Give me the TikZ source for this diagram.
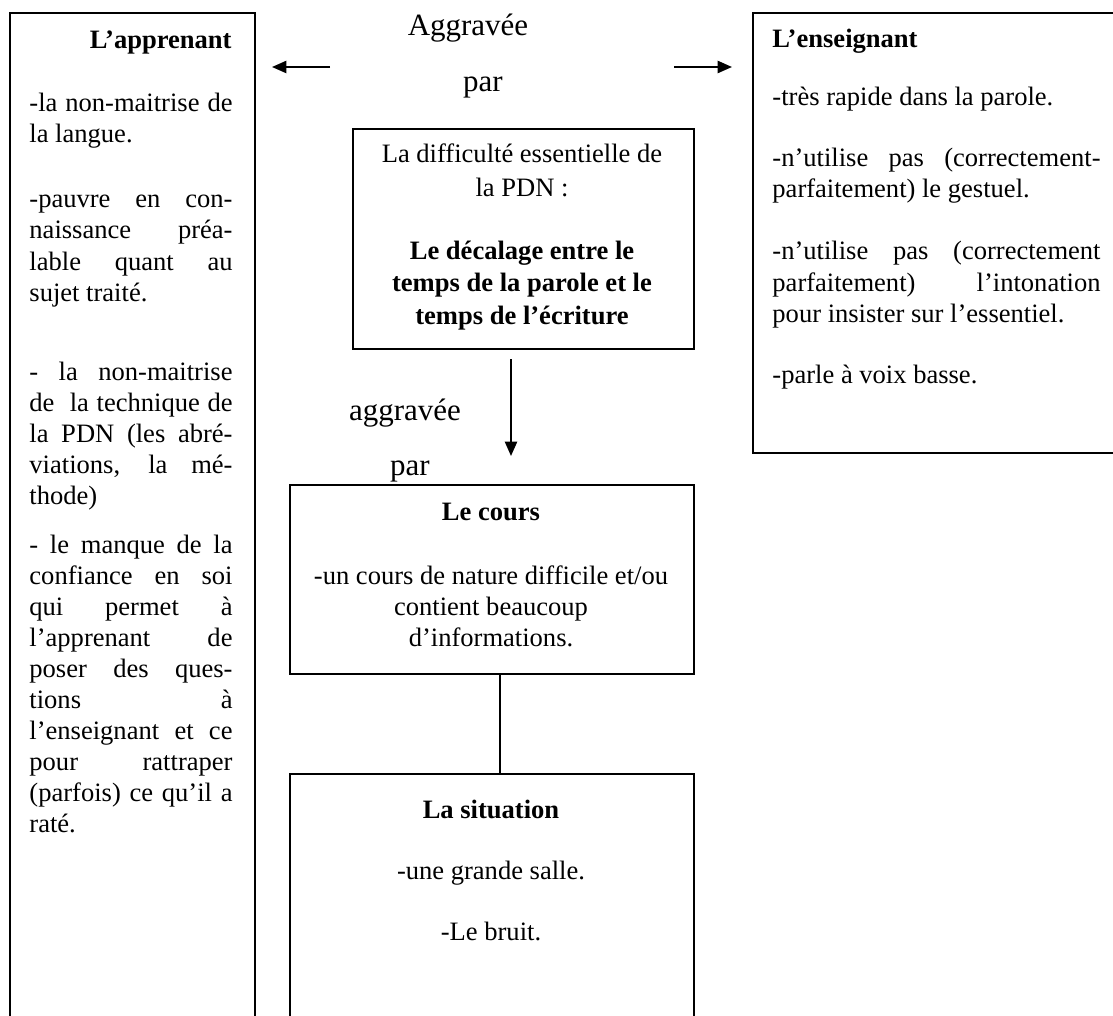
\documentclass[tikz,border=0pt]{standalone}
\usepackage{fontspec}
\setmainfont{Liberation Serif}
\usetikzlibrary{arrows.meta}
\newcommand{\px}{0.452pt}
\newcommand{\J}[1]{\makebox[91.8pt][s]{#1}}
\newcommand{\K}[1]{\makebox[148.3pt][s]{#1}}
\tikzset{
  box/.style={draw, line width=0.9pt, anchor=north west, inner sep=0pt},
  txt/.style={anchor=base west, inner sep=0pt, font=\fontsize{12}{14}\selectfont},
  txtc/.style={anchor=base, inner sep=0pt, font=\fontsize{12}{14}\selectfont},
  txtr/.style={anchor=base east, inner sep=0pt, font=\fontsize{12}{14}\selectfont\bfseries},
  lbl/.style={anchor=base, inner sep=0pt, font=\fontsize{14}{16}\selectfont},
  conn/.style={line width=0.9pt},
  arr/.style={line width=0.9pt, -{Triangle[length=6.5pt, width=5.5pt]}}
}
\begin{document}
\begin{tikzpicture}[x=\px, y=-\px]
\useasboundingbox (0,0) rectangle (1113,1016);
\clip (0,0) rectangle (1113,1016);

% boxes
\node[box, minimum width=245*\px, minimum height=1020*\px] (app) at (9,12) {};
\node[box, minimum width=380*\px, minimum height=440*\px] (ens) at (752,12) {};
\node[box, minimum width=341*\px, minimum height=220*\px] (diff) at (352,128) {};
\node[box, minimum width=404*\px, minimum height=189*\px] (cours) at (289,484) {};
\node[box, minimum width=404*\px, minimum height=260*\px] (sit) at (289,773) {};

% connectors
\coordinate (aLs) at (330,67);
\coordinate (aLe) at (272,67);
\coordinate (aRs) at (674,67);
\coordinate (aRe) at (732,67);
\coordinate (aDs) at (511,359);
\coordinate (aDe) at (511,456);
\coordinate (cx) at (500,0);
\draw[arr] (aLs) -- (aLe);
\draw[arr] (aRs) -- (aRe);
\draw[arr] (aDs) -- (aDe);
\draw[conn] (cours.south -| cx) -- (sit.north -| cx);

% labels
\node[lbl] (lA) at (468,36) {Aggravée};
\node[lbl] (lB) at (483,92) {par};
\node[lbl] (lC) at (405,420) {aggravée};
\node[lbl] (lD) at (410,475) {par};

% L'apprenant
\node[txtr] (a0) at (232,49) {L’apprenant};
\node[txt] (a1) at (29,112) {\J{-la non-maitrise de}};
\node[txt] (a2) at (29,143) {la langue.};
\node[txt] (a3) at (29,208) {\J{-pauvre en con-}};
\node[txt] (a4) at (29,239) {\J{naissance préa-}};
\node[txt] (a5) at (29,270) {\J{lable quant au}};
\node[txt] (a6) at (29,301) {sujet traité.};
\node[txt] (a7) at (29,380) {\J{- la non-maitrise}};
\node[txt] (a8) at (29,411) {\J{de\ \ la technique de}};
\node[txt] (a9) at (29,442) {\J{la PDN (les abré-}};
\node[txt] (a10) at (29,473) {\J{viations, la mé-}};
\node[txt] (a11) at (29,504) {thode)};
\node[txt] (a12) at (29,553) {\J{- le manque de la}};
\node[txt] (a13) at (29,584) {\J{confiance en soi}};
\node[txt] (a14) at (29,615) {\J{qui permet à}};
\node[txt] (a15) at (29,646) {\J{l’apprenant de}};
\node[txt] (a16) at (29,677) {\J{poser des ques-}};
\node[txt] (a17) at (29,708) {\J{tions à}};
\node[txt] (a18) at (29,739) {\J{l’enseignant et ce}};
\node[txt] (a19) at (29,770) {\J{pour rattraper}};
\node[txt] (a20) at (29,801) {\J{(parfois) ce qu’il a}};
\node[txt] (a21) at (29,832) {raté.};

% L'enseignant
\node[txt, font=\fontsize{12}{14}\selectfont\bfseries] (e0) at (772,48) {L’enseignant};
\node[txt] (e1) at (772,106) {-très rapide dans la parole.};
\node[txt] (e2) at (772,167) {\K{-n’utilise pas (correctement-}};
\node[txt] (e3) at (772,198) {parfaitement) le gestuel.};
\node[txt] (e4) at (772,260) {\K{-n’utilise pas (correctement}};
\node[txt] (e5) at (772,291) {\K{parfaitement) l’intonation}};
\node[txt] (e6) at (772,322) {pour insister sur l’essentiel.};
\node[txt] (e7) at (772,383) {-parle à voix basse.};

% centre box
\node[txtc] (d1) at (522,163) {La difficulté essentielle de};
\node[txtc] (d2) at (522,197) {la PDN :};
\node[txtc, font=\fontsize{12}{14}\selectfont\bfseries] (d3) at (522,260) {Le décalage entre le};
\node[txtc, font=\fontsize{12}{14}\selectfont\bfseries] (d4) at (522,292) {temps de la parole et le};
\node[txtc, font=\fontsize{12}{14}\selectfont\bfseries] (d5) at (522,324) {temps de l’écriture};

% Le cours
\node[txtc, font=\fontsize{12}{14}\selectfont\bfseries] (c0) at (491,520) {Le cours};
\node[txtc] (c1) at (491,584) {-un cours de nature difficile et/ou};
\node[txtc] (c2) at (491,615) {contient beaucoup};
\node[txtc] (c3) at (491,646) {d’informations.};

% La situation
\node[txtc, font=\fontsize{12}{14}\selectfont\bfseries] (s0) at (491,818) {La situation};
\node[txtc] (s1) at (491,879) {-une grande salle.};
\node[txtc] (s2) at (491,940) {-Le bruit.};
\end{tikzpicture}
\end{document}
